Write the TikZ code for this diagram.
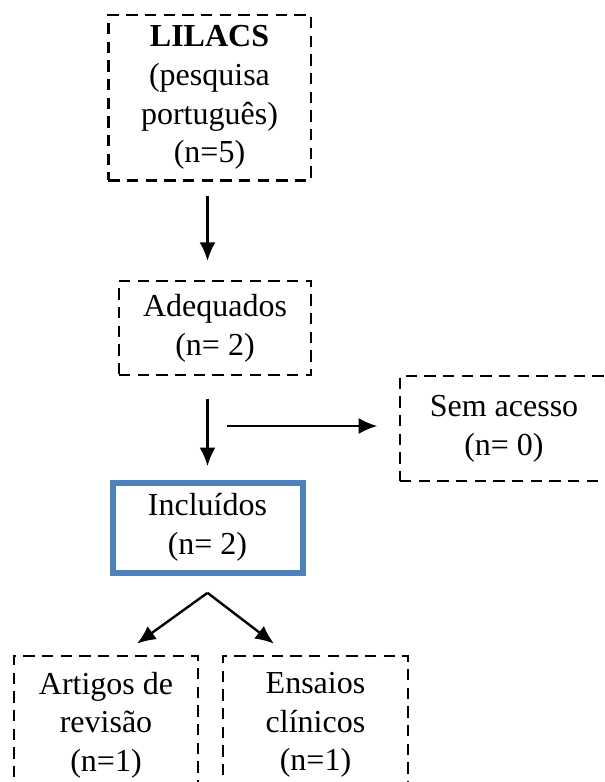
\documentclass[tikz,border=0pt]{standalone}
\usepackage{fontspec}
\setmainfont{Liberation Serif}
\usetikzlibrary{arrows.meta}
\definecolor{boxblue}{HTML}{4F81BD}
\tikzset{
  dashbox/.style={draw, line width=2pt, dash pattern=on 8.5pt off 5.5pt, align=center, inner sep=0pt, font=\fontsize{24}{29}\selectfont},
  bluebox/.style={draw=boxblue, line width=4.5pt, align=center, inner sep=0pt, font=\fontsize{24}{29}\selectfont},
  arr/.style={line width=1.8pt, -{Latex[length=14pt,width=12pt]}}
}
\begin{document}
\begin{tikzpicture}[x=0.75pt, y=-0.75pt]
\useasboundingbox (0,0) rectangle (605,782);
\clip (0,0) rectangle (605,782);
% boxes
\node [dashbox, minimum width=152pt, minimum height=124pt] (lilacs) at (209.5,97.5) {\textbf{LILACS}\\(pesquisa\\português)\\(n=5)};
\node [dashbox, minimum width=144pt, minimum height=70.5pt] (adeq) at (215,328) {Adequados\\ (n= 2)};
\node [dashbox, minimum width=156pt, minimum height=78.75pt] (sem) at (504,428.5) {Sem acesso\\ (n= 0)};
\node [bluebox, minimum width=142.5pt, minimum height=67.5pt] (inc) at (207.5,527.5) {Incluídos\\ (n= 2)};
\node [dashbox, minimum width=138pt, minimum height=103.5pt] (art) at (106,725) {Artigos de\\revisão\\(n=1)};
\node [dashbox, minimum width=138.75pt, minimum height=103.5pt] (ens) at (315.5,725) {Ensaios\\clínicos\\(n=1)};
% arrows
\draw [arr, shorten <=11pt, shorten >=14pt] (lilacs.south -| inc.north) -- (adeq.north -| inc.north);
\draw [arr, shorten <=17pt, shorten >=10pt] (adeq.south -| inc.north) -- (inc.north);
\coordinate (fork) at (206,426);
\draw [arr, shorten <=16pt, shorten >=16pt] (fork) -- (fork -| sem.west);
\coordinate (split) at ([yshift=-13pt]inc.south);
\draw [arr] (split) -- ([shift={(31,-11)}]art.north);
\draw [arr] (split) -- ([shift={(-41.5,-11)}]ens.north);
\end{tikzpicture}
\end{document}
